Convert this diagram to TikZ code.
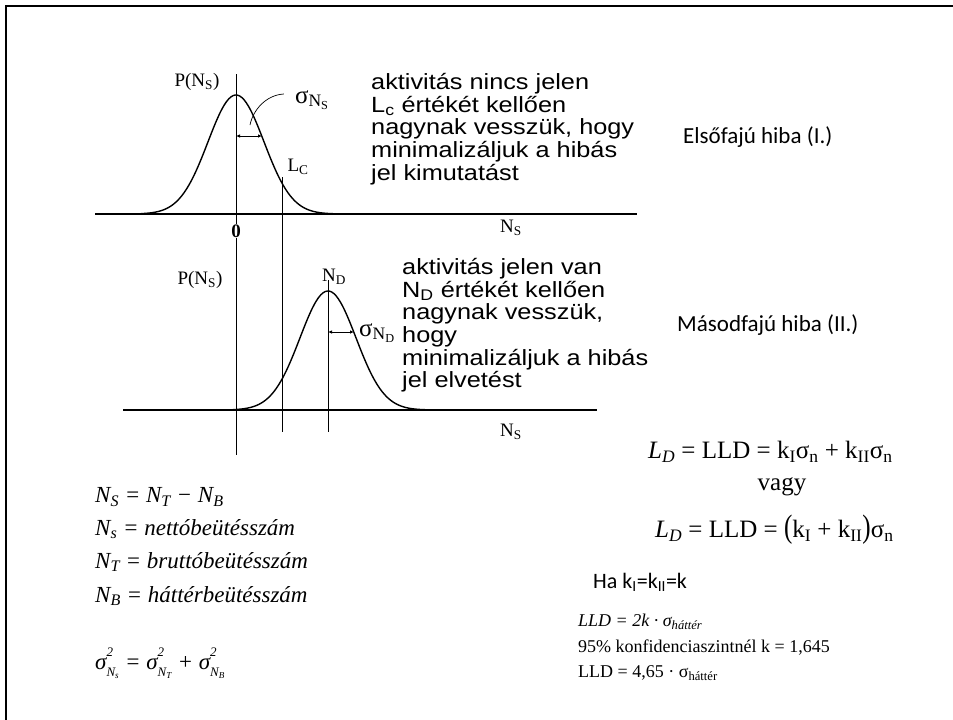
\documentclass[tikz,border=0pt]{standalone}
\usepackage{fontspec}
\setmainfont{Liberation Serif}
\newfontfamily\scanfont[FakeStretch=1.15]{Liberation Sans}
\newfontfamily\slidefont{Carlito}
\usepackage{graphicx}
\usepackage{tikz}
\usetikzlibrary{positioning,calc,arrows.meta}

\newcommand\lo[1]{\textsubscript{#1}}
\newcommand\hilo[2]{\rlap{\raisebox{0.55em}{\fontsize{13}{13}\selectfont #1}}\raisebox{-0.32em}{\fontsize{13}{13}\selectfont #2}}
\newcommand\bigpar[1]{\scalebox{1}[1.3]{#1}}

\tikzset{
  axis/.style={line width=1.1pt},
  guide/.style={line width=0.9pt},
  bell/.style={line width=1.4pt},
  lead/.style={line width=0.7pt},
  scan/.style={font=\scanfont\fontsize{22}{22.7}\selectfont, align=left, anchor=north west, inner sep=0pt},
  tag/.style={font=\slidefont\fontsize{23}{26}\selectfont, anchor=west, inner sep=0pt},
  plbl/.style={font=\fontsize{19}{20}\selectfont, inner sep=1pt},
  sig/.style={font=\fontsize{25}{26}\selectfont, inner sep=1pt},
  feq/.style={font=\itshape\fontsize{23}{26}\selectfont, anchor=west, inner sep=0pt},
  req/.style={font=\fontsize{25}{28}\selectfont, anchor=west, inner sep=0pt},
  seq/.style={font=\fontsize{18}{20}\selectfont, anchor=west, inner sep=0pt},
}

\begin{document}
\begin{tikzpicture}[x=1pt,y=-1pt]
  \useasboundingbox (0,0) rectangle (953,720);
  \draw[line width=2.5pt] (6,720) -- (6,6) -- (953,6);

  % axes and guide lines
  \draw[axis] (95,214) -- (637,214);
  \draw[axis] (123,410) -- (597,410);
  \draw[guide] (236,74) -- (236,455);
  \draw[guide] (282,177) -- (282,432);
  \draw[guide] (328,280) -- (328,432);

  % the two bells with their sigma arrows
  \foreach \cx/\by in {236/214, 328/410}{
    \draw[bell] plot[domain=-95:100, samples=90, smooth]
      ({\cx+\x}, {\by-119*exp(-0.5*(\x/28)^2)});
    \draw[{Latex[length=4pt,width=3.5pt]}-{Latex[length=4pt,width=3.5pt]}, line width=0.8pt]
      (\cx,\by-78) -- (\cx+26,\by-78);
  }

  % upper panel labels
  \node[plbl] (pTop) at (197,82) {P(N\lo{S})};
  \node[plbl, font=\bfseries\fontsize{19}{20}\selectfont, fill=white] (zero) at (236,231) {0};
  \node[plbl] (nsTop) at (511,228) {N\lo{S}};
  \node[plbl] (lc) at (298,167) {L\lo{C}};
  \node[sig] (sigS) at (312,100) {σ\lo{N\lo{S}}};
  \coordinate (sigTip) at (250,125);
  \draw[lead] ($(sigS.west)+(-10,-6)$) .. controls (266,95) and (253,110) .. (sigTip);

  % lower panel labels
  \node[plbl] (pBot) at (200,280) {P(N\lo{S})};
  \node[plbl] (nd) at (334,277) {N\lo{D}};
  \node[sig, anchor=west] (sigD) at (358,333) {σ\lo{N\lo{D}}};
  \node[plbl] (nsBot) at (511,432) {N\lo{S}};

  % scanned notes
  \node[scan] (noteI) at (371,73) {aktivitás nincs jelen\\L\lo{c} értékét kellően\\nagynak vesszük, hogy\\minimalizáljuk a hibás\\jel kimutatást};
  \node[scan] (noteII) at (402,258) {aktivitás jelen van\\N\lo{D} értékét kellően\\nagynak vesszük,\\hogy\\minimalizáljuk a hibás\\jel elvetést};
  \node[tag] (errI) at (683,137) {Elsőfajú hiba (I.)};
  \node[tag] (errII) at (677,325) {Másodfajú hiba (II.)};

  % formulas, left column
  \node[feq] (fNs) at (95,497) {N\lo{S} = N\lo{T} − N\lo{B}};
  \node[feq] (fNet) at (95,529) {N\lo{s} = nettóbeütésszám};
  \node[feq] (fBru) at (95,562) {N\lo{T} = bruttóbeütésszám};
  \node[feq] (fBg) at (95,596) {N\lo{B} = háttérbeütésszám};
  \node[feq] (fVar) at (95,663) {σ\hilo{2}{N\lo{s}} = σ\hilo{2}{N\lo{T}} + σ\hilo{2}{N\lo{B}}};

  % formulas, right column
  \node[req] (lldA) at (648,452) {\textit{L}\lo{\textit{D}} = LLD = k\lo{I}σ\lo{n} + k\lo{II}σ\lo{n}};
  \node[req, anchor=center] (vagy) at (782,487) {vagy};
  \node[req] (lldB) at (655,530) {\textit{L}\lo{\textit{D}} = LLD = \bigpar{(}k\lo{I} + k\lo{II}\bigpar{)}σ\lo{n}};
  \node[tag, font=\slidefont\fontsize{22}{24}\selectfont] (ha) at (593,582) {Ha k\lo{I}=k\lo{II}=k};
  \node[seq, font=\itshape\fontsize{18}{20}\selectfont] (lld2k) at (578,622) {LLD = 2k · σ\lo{háttér}};
  \node[seq] (conf) at (578,648) {95\% konfidenciaszintnél k = 1,645};
  \node[seq] (lld465) at (578,673) {LLD = 4,65 · σ\lo{háttér}};
\end{tikzpicture}
\end{document}
